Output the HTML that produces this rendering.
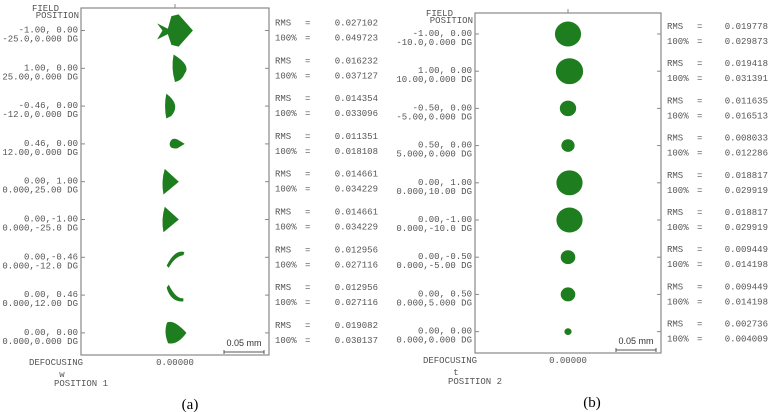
<!DOCTYPE html>
<html><head><meta charset="utf-8">
<style>
body{margin:0;background:#fff;}
svg{display:block;}
text{font-family:"Liberation Mono",monospace;font-size:9px;fill:#555;}
.cap{font-family:"Liberation Serif",serif;font-size:15px;fill:#000;}
.sb{font-family:"Liberation Sans",sans-serif;font-size:9px;fill:#333;}
</style></head>
<body>
<svg id="fig" width="772" height="412" viewBox="0 0 772 412"></svg>
<script>
// Panel (a) data
const fieldsA = [["-1.00, 0.00","-25.0,0.000 DG"],["1.00, 0.00","25.00,0.000 DG"],["-0.46, 0.00","-12.0,0.000 DG"],["0.46, 0.00","12.00,0.000 DG"],["0.00, 1.00","0.000,25.00 DG"],["0.00,-1.00","0.000,-25.0 DG"],["0.00,-0.46","0.000,-12.0 DG"],["0.00, 0.46","0.000,12.00 DG"],["0.00, 0.00","0.000,0.000 DG"]];
const rmsA = [0.027102,0.016232,0.014354,0.011351,0.014661,0.014661,0.012956,0.012956,0.019082];
const fullA = [0.049723,0.037127,0.033096,0.018108,0.034229,0.034229,0.027116,0.027116,0.030137];
// Panel (b) data
const fieldsB = [["-1.00, 0.00","-10.0,0.000 DG"],["1.00, 0.00","10.00,0.000 DG"],["-0.50, 0.00","-5.00,0.000 DG"],["0.50, 0.00","5.000,0.000 DG"],["0.00, 1.00","0.000,10.00 DG"],["0.00,-1.00","0.000,-10.0 DG"],["0.00,-0.50","0.000,-5.00 DG"],["0.00, 0.50","0.000,5.000 DG"],["0.00, 0.00","0.000,0.000 DG"]];
const rmsB = [0.019778,0.019418,0.011635,0.008033,0.018817,0.018817,0.009449,0.009449,0.002736];
const fullB = [0.029873,0.031391,0.016513,0.012286,0.029919,0.029919,0.014198,0.014198,0.004009];

// unit shapes (radius ~1) for panel a spots
const shapesA = [
 "M-1,-0.4 L-0.4,-0.1 L-0.2,-0.8 L0.2,-0.9 L1,0 L0.2,0.9 L-0.2,0.8 L-0.4,0.2 L-1,0.5 L-0.7,0 Z",
 "M-0.2,-1 Q1.1,-0.2 0.6,0.4 Q0.4,0.9 -0.1,1 Q-0.4,0 -0.2,-1 Z",
 "M-0.2,-1 Q1,-0.1 0.2,0.8 L-0.2,1 Q-0.4,0 -0.2,-1 Z",
 "M-0.8,-0.1 Q-0.6,-0.9 0.2,-0.6 L1.2,0 L0.2,0.6 Q-0.9,0.7 -0.8,-0.1 Z",
 "M-0.5,-1 L0.6,0 L-0.6,1 Q-0.8,0 -0.5,-1 Z",
 "M-0.5,-1 L0.6,0 L-0.6,1 Q-0.8,0 -0.5,-1 Z",
 "M0.9,-0.5 Q0,-0.8 -0.8,0.8 L-0.6,1 Q0,-0.1 0.8,-0.2 Z",
 "M-0.6,-1 Q0.1,0.4 0.8,0.3 L0.8,0.6 Q-0.4,0.7 -0.8,-0.7 Z",
 "M-0.7,-0.9 Q-0.1,-1.2 1,0 Q0.2,1.1 -0.6,0.9 Q-1,0 -0.7,-0.9 Z"
];
const offA = [0,0.1,-0.5,0.1,-0.3,-0.3,0,0,0];
const svg = document.getElementById('fig');
const NS = 'http://www.w3.org/2000/svg';
function mk(tag, attrs, name, parent){
  const e = document.createElementNS(NS, tag);
  for (const k in attrs) e.setAttribute(k, attrs[k]);
  
  
  (parent||svg).appendChild(e); return e;
}
function txt(x,y,s,name,anchor,cls){
  const t = mk('text',{x:x,y:y,'text-anchor':anchor||'start'},name);
  if(cls) t.setAttribute('class',cls);
  t.textContent = s; return t;
}
function panel(p){
  mk('g',{},'panel-'+p.id);
  const bx = p.box;
  mk('rect',{x:bx[0],y:bx[1],width:bx[2]-bx[0],height:bx[3]-bx[1],fill:'none',stroke:'#888','stroke-width':1.2},'plot-frame');
  mk('line',{x1:p.cx,y1:bx[1]-4,x2:p.cx,y2:bx[1],stroke:'#888'},'top-tick');
  txt(bx[0]-22,bx[1]+3,'FIELD','field-title','end');
  txt(bx[0]-2,bx[1]+10,'POSITION','field-title-2','end');
  const rowY = i => p.y0 + i*p.dy;
  p.fields.forEach((f,i)=>{
    const y = rowY(i);
    mk('line',{x1:bx[0],y1:y,x2:bx[0]+4,y2:y,stroke:'#888'},'left-tick');
    mk('line',{x1:bx[2]-4,y1:y,x2:bx[2],y2:y,stroke:'#888'},'right-tick');
    txt(bx[0]-3,y+2,f[0],'field-label','end');
    txt(bx[0]-3,y+11,f[1],'field-label','end');
    txt(bx[2]+6,y-5,'RMS','rms-label');
    txt(bx[2]+36,y-5,'=','rms-eq');
    txt(p.vx,y-5,p.rms[i].toFixed(6),'rms-value','end');
    txt(bx[2]+6,y+10,'100%','full-label');
    txt(bx[2]+36,y+10,'=','full-eq');
    txt(p.vx,y+10,p.full[i].toFixed(6),'full-value','end');
    const r = p.full[i]*p.k + p.r0;
    if(p.shapes){
      mk('path',{d:p.shapes[i],fill:'#1e7d1e',transform:`translate(${p.cx+p.off[i]*r},${y}) scale(${r})`},'spot-'+(i+1));
    } else {
      mk('ellipse',{cx:p.cx+(i===1||i===4||i===5?1.5:0),cy:y,rx:r*1.05,ry:r,fill:'#1e7d1e'},'spot-'+(i+1));
    }
  });
  mk('line',{x1:p.sb[0],y1:p.sb[1],x2:p.sb[0]+40,y2:p.sb[1],stroke:'#555'},'scale-bar');
  mk('line',{x1:p.sb[0],y1:p.sb[1]-2,x2:p.sb[0],y2:p.sb[1]+2,stroke:'#555'},'scale-bar-end');
  mk('line',{x1:p.sb[0]+40,y1:p.sb[1]-2,x2:p.sb[0]+40,y2:p.sb[1]+2,stroke:'#555'},'scale-bar-end');
  txt(p.sb[0]+20,p.sb[1]-6,'0.05 mm','scale-bar-label','middle','sb');
  txt(bx[0]+2,bx[3]+10,'DEFOCUSING','defocus-label','end');
  txt(p.cx,bx[3]+10,'0.00000','defocus-value','middle');
  txt(bx[0]-19,bx[3]+22,p.sym,'axis-symbol','middle');
  txt(bx[0]-27,bx[3]+31,p.pos,'position-label','start');
  txt(p.capx,bx[3]+54,p.cap,'panel-caption','middle','cap');
}
panel({id:'a',box:[81,8,269,355],cx:175,y0:30.5,dy:37.8,fields:fieldsA,rms:rmsA,full:fullA,vx:378,k:330,r0:1.5,shapes:shapesA,off:offA,sb:[224,352],sym:'w',pos:'POSITION 1',cap:'(a)',capx:190});
panel({id:'b',box:[475,13,661,353],cx:568,y0:34,dy:37.2,fields:fieldsB,rms:rmsB,full:fullB,vx:768,k:350,r0:2,sb:[616,350],sym:'t',pos:'POSITION 2',cap:'(b)',capx:592});
</script>
</body></html>
